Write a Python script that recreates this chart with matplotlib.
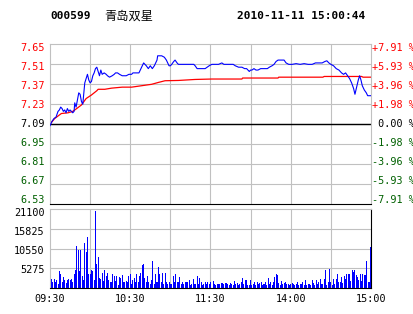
import numpy as np
import matplotlib
matplotlib.use("Agg")
import matplotlib.pyplot as plt
import matplotlib.transforms as mtransforms

W, H, DPI = 414, 314, 100

stock_code = "000599"
stock_name = "青岛双星"
stamp = "2010-11-11 15:00:44"
prev_close = 7.09

price_ticks = [7.65, 7.51, 7.37, 7.23, 7.09, 6.95, 6.81, 6.67, 6.53]
pct_labels = ["+7.91 %", "+5.93 %", "+3.96 %", "+1.98 %", " 0.00 %",
              "-1.98 %", "-3.96 %", "-5.93 %", "-7.91 %"]
vol_ticks = [21100, 15825, 10550, 5275]
time_labels = ["09:30", "10:30", "11:30", "14:00", "15:00"]
time_pos = [0, 60, 120, 180, 240]

# price line (minute index, price)
price_min = [0, 1.5, 3, 4.5, 6, 7, 8, 9, 10, 11, 12, 13, 14, 15, 16, 17, 18,
             18.5, 19.5, 20.5, 21.5, 22.5, 23.5, 24.5, 25.5, 26, 27, 28, 29, 30,
             31, 32, 33, 34, 35, 36, 37, 38, 39, 40.5, 42, 43, 44.5, 46.5, 48,
             49, 50.5, 52, 54, 57, 59, 61, 62, 64.5, 66.5, 67.5, 69, 70, 71, 72,
             73.5, 75, 76.5, 78, 79, 80, 80.5, 83.5, 85.5, 87, 88, 89, 90, 91,
             92.5, 93.5, 95, 96, 97.5, 99, 103.5, 107.5, 108.5, 110, 111.5, 113,
             114.5, 116, 117.5, 119, 121, 126, 128.5, 130, 135, 137, 138.5, 141,
             143.5, 145.5, 147, 148, 149, 150, 151, 152.5, 154, 155.5, 157.5,
             161, 162.5, 164, 166, 167.5, 169, 170.5, 173, 175, 176.5, 178.5,
             181, 184, 187, 190, 193, 196, 198.5, 203.5, 205.5, 207, 208.5, 210,
             212, 214, 216, 218, 219.5, 221, 222.5, 224, 225.5, 227, 228, 229,
             230.5, 231.5, 232.5, 233.5, 235, 236.5, 237.5, 239, 240]
price = [7.08, 7.11, 7.13, 7.14, 7.18, 7.19, 7.21, 7.20, 7.18, 7.19, 7.17,
         7.20, 7.18, 7.19, 7.18, 7.17, 7.18, 7.24, 7.21, 7.26, 7.31, 7.30, 7.25,
         7.23, 7.33, 7.38, 7.41, 7.44, 7.40, 7.38, 7.39, 7.43, 7.45, 7.48, 7.49,
         7.46, 7.43, 7.47, 7.44, 7.45, 7.44, 7.43, 7.42, 7.43, 7.44, 7.45, 7.45,
         7.44, 7.43, 7.43, 7.44, 7.44, 7.45, 7.45, 7.45, 7.47, 7.50, 7.52, 7.51,
         7.50, 7.48, 7.50, 7.48, 7.50, 7.52, 7.54, 7.57, 7.57, 7.56, 7.54, 7.52,
         7.50, 7.50, 7.51, 7.53, 7.54, 7.52, 7.51, 7.51, 7.51, 7.51, 7.51, 7.50,
         7.48, 7.48, 7.48, 7.48, 7.48, 7.49, 7.50, 7.51, 7.51, 7.52, 7.51, 7.51,
         7.51, 7.50, 7.49, 7.49, 7.48, 7.48, 7.47, 7.46, 7.47, 7.47, 7.48, 7.47,
         7.47, 7.48, 7.48, 7.48, 7.49, 7.50, 7.51, 7.53, 7.54, 7.54, 7.54, 7.52,
         7.51, 7.51, 7.515, 7.51, 7.515, 7.51, 7.51, 7.52, 7.52, 7.53, 7.535,
         7.52, 7.51, 7.50, 7.48, 7.47, 7.45, 7.44, 7.45, 7.43, 7.41, 7.38, 7.34,
         7.30, 7.34, 7.40, 7.43, 7.40, 7.36, 7.33, 7.31, 7.29, 7.29, 7.29]

# average price line
avg_min = [0, 3.5, 8.5, 13.5, 17, 20, 23.5, 27, 31, 35, 36, 41, 46, 54, 61,
           68.5, 76, 81, 86, 96, 108.5, 121, 143.5, 144, 170.5, 171, 204, 205,
           233, 234, 240]
avg_price = [7.09, 7.13, 7.165, 7.17, 7.18, 7.20, 7.225, 7.27, 7.295, 7.325,
             7.335, 7.335, 7.343, 7.35, 7.35, 7.36, 7.37, 7.383, 7.395, 7.397,
             7.404, 7.407, 7.407, 7.414, 7.414, 7.42, 7.42, 7.425, 7.425, 7.42,
             7.42]

# per-minute volume, 09:30-11:30 (minutes 0-120) then 13:01-15:00
vol_am = [1950, 2480, 1600, 2480, 1770, 2130, 1240, 4610, 3810, 1600, 3020,
          2130, 1510, 2130, 2480, 2130, 2480, 1600, 3810, 4880, 11260, 10200,
          4610, 10200, 3190, 2130, 12060, 9670, 13660, 3810, 3810, 4880, 4610,
          2130, 20580, 6470, 8340, 2660, 2480, 3990, 1950, 4880, 3280, 3990,
          2130, 1600, 1770, 3730, 3280, 1950, 3280, 890, 3020, 2660, 3550, 1600,
          1600, 1950, 1770, 3280, 3810, 1060, 2220, 2660, 1770, 3810, 1770,
          3370, 3990, 6210, 6390, 2840, 1600, 3280, 1770, 1240, 2220, 7270,
          1060, 3810, 1600, 5680, 3810, 1770, 3990, 1060, 3990, 1600, 1060,
          1600, 1060, 1240, 3280, 1600, 3810, 1600, 1770, 3020, 1060, 1600,
          1060, 1600, 1770, 1600, 2130, 890, 1060, 2480, 1060, 1060, 3280, 1060,
          2660, 1600, 890, 1060, 1600, 1060, 1770, 1060, 1600]
vol_pm = [1950, 1060, 890, 1240, 1060, 1240, 1420, 1420, 1060, 1420, 1420,
          1060, 890, 1420, 1240, 890, 1950, 1060, 1420, 890, 1060, 1600, 2840,
          1060, 2310, 2310, 890, 890, 2130, 890, 1060, 1600, 890, 1600, 1060,
          1420, 1600, 890, 1240, 1770, 890, 2660, 1240, 1600, 890, 1600, 3020,
          3730, 3550, 1420, 890, 1950, 1060, 1420, 1600, 1060, 1240, 890, 1060,
          1420, 1060, 890, 1240, 1600, 890, 1240, 1060, 1600, 890, 2130, 890,
          1240, 1060, 890, 2130, 1420, 890, 2310, 1060, 1600, 2480, 1060, 1240,
          2480, 4790, 890, 1770, 5140, 1600, 890, 2480, 1060, 2480, 3730, 1770,
          1600, 3020, 1420, 3370, 2480, 3730, 3730, 3730, 1950, 4790, 4440,
          4790, 3550, 3020, 2130, 3900, 1950, 3730, 3550, 3550, 7270, 1600,
          1770, 11000]

GRID = "#c0c0c0"
RED = "#ff0000"
GREEN = "#006000"
MONO = "DejaVu Sans Mono"

fig = plt.figure(figsize=(W / DPI, H / DPI), dpi=DPI)
fig.patch.set_facecolor("white")


def px_axes(left, top, right, bottom):
    return fig.add_axes([left / W, 1 - bottom / H, (right - left) / W, (bottom - top) / H])


def fx(px):
    return px / W


def fy(px):
    return 1 - px / H


ax = px_axes(50, 44.4, 371, 204)
axv = px_axes(50, 209, 371, 288.3)

for a in (ax, axv):
    a.set_xlim(0, 240)
    a.set_xticks([])
    a.set_yticks([])
    for m in range(30, 240, 30):
        a.axvline(m, color=GRID, lw=0.8, zorder=0)
    for s in a.spines.values():
        s.set_color(GRID)
        s.set_linewidth(0.8)

# price panel
ax.set_ylim(price_ticks[-1], price_ticks[0])
for yt in price_ticks[1:-1]:
    ax.axhline(yt, color=GRID, lw=0.8, zorder=0)
ax.axhline(prev_close, color="black", lw=1.0, zorder=1)
ax.spines["bottom"].set_color("black")
ax.plot(avg_min, avg_price, color=RED, lw=0.9, zorder=2)
ax.plot(price_min, price, color="#0000ff", lw=0.8, zorder=3)

# tick texts sit on a slightly tighter pitch than the grid lines
for i, (yt, lab) in enumerate(zip(price_ticks, pct_labels)):
    if yt > prev_close + 0.001:
        c = RED
    elif yt < prev_close - 0.001:
        c = GREEN
    else:
        c = "black"
    ypx = 47.6 + i * 19.05
    fig.text(fx(44.5), fy(ypx), f"{yt:.2f}", ha="right", va="center",
             color=c, fontsize=7.3, family=MONO)
    fig.text(fx(372), fy(ypx), lab, ha="left", va="center",
             color=c, fontsize=7.3, family=MONO)

# volume panel
axv.set_ylim(0, vol_ticks[0])
for yt in vol_ticks[1:]:
    axv.axhline(yt, color=GRID, lw=0.8, zorder=0)
axv.spines["bottom"].set_color("black")
axv.spines["right"].set_color("black")
axv.bar(np.arange(len(vol_am)), vol_am, width=0.75, color="#0000ff", lw=0, zorder=2)
axv.bar(np.arange(241 - len(vol_pm), 241), vol_pm, width=0.75, color="#0000ff", lw=0, zorder=2)

for i, yt in enumerate(vol_ticks):
    fig.text(fx(44.5), fy(213.3 + i * 19), str(yt), ha="right", va="center",
             color="black", fontsize=7.3, family=MONO)

time_tr = mtransforms.blended_transform_factory(axv.transData, fig.transFigure)
for m, lab in zip(time_pos, time_labels):
    axv.text(m, fy(298.5), lab, transform=time_tr, ha="center", va="center",
             color="black", fontsize=7.3, family=MONO, clip_on=False)

# header
fig.text(fx(50), fy(16), stock_code, ha="left", va="center", fontsize=8.0,
         family=MONO, weight="bold")
fig.text(fx(104), fy(16), stock_name, ha="left", va="center", fontsize=8.8,
         family=["Noto Sans CJK SC", "DejaVu Sans"])
fig.text(fx(237), fy(16), stamp, ha="left", va="center", fontsize=8.0,
         family=MONO, weight="bold")

fig.savefig("out.png", dpi=DPI, facecolor="white")
